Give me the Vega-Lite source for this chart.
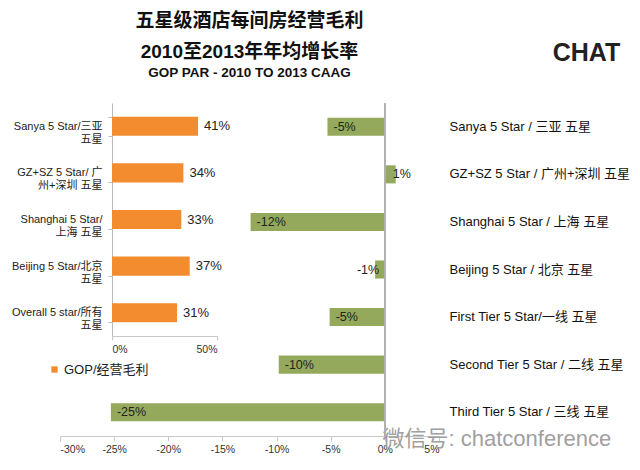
{
  "$schema": "https://vega.github.io/schema/vega-lite/v6.json",
  "width": 379,
  "height": 333,
  "autosize": {"type": "none"},
  "padding": {"left": 60, "top": 103, "right": 201, "bottom": 34},
  "title": {
    "text": ["五星级酒店每间房经营毛利", "2010至2013年年均增长率"],
    "subtitle": "GOP PAR - 2010 TO 2013 CAAG",
    "anchor": "middle",
    "frame": "group",
    "fontSize": 19,
    "fontWeight": "bold",
    "lineHeight": 31,
    "color": "#111",
    "subtitleFontSize": 13.5,
    "subtitleFontWeight": "bold",
    "subtitleColor": "#111",
    "subtitlePadding": 4,
    "offset": -39
  },
  "datasets": {
    "growth": [
      {"market": "Sanya 5 Star / 三亚 五星", "caag": -0.053},
      {"market": "GZ+SZ 5 Star / 广州+深圳 五星", "caag": 0.01},
      {"market": "Shanghai 5 Star / 上海 五星", "caag": -0.124},
      {"market": "Beijing 5 Star / 北京 五星", "caag": -0.009},
      {"market": "First Tier 5 Star/一线 五星", "caag": -0.051},
      {"market": "Second Tier 5 Star / 二线 五星", "caag": -0.098},
      {"market": "Third Tier 5 Star / 三线 五星", "caag": -0.253}
    ],
    "gop": [
      {"market": "Sanya 5 Star/三亚|五星", "gop": 0.41},
      {"market": "GZ+SZ 5 Star/ 广|州+深圳 五星", "gop": 0.34},
      {"market": "Shanghai 5 Star/|上海 五星", "gop": 0.33},
      {"market": "Beijing 5 Star/北京|五星", "gop": 0.37},
      {"market": "Overall 5 star/所有|五星", "gop": 0.31}
    ]
  },
  "layer": [
    {
      "data": {"name": "growth"},
      "layer": [
        {
          "encoding": {
            "y": {
              "field": "market",
              "type": "nominal",
              "sort": null,
              "scale": {"paddingInner": 0.62, "paddingOuter": 0.31},
              "axis": {
                "orient": "right",
                "domain": false,
                "ticks": false,
                "labelAlign": "left",
                "labelPadding": 10,
                "labelFontSize": 13,
                "labelColor": "#111",
                "labelLimit": 300,
                "title": "CHAT",
                "titleAngle": 0,
                "titleX": 147,
                "titleY": -43,
                "titleAlign": "center",
                "titleBaseline": "alphabetic",
                "titleFontSize": 25,
                "titleFontWeight": "bold",
                "titleColor": "#222"
              }
            },
            "x": {
              "field": "caag",
              "type": "quantitative",
              "scale": {"domain": [-0.3, 0.05], "nice": false, "zero": false},
              "axis": {
                "orient": "bottom",
                "values": [-0.3, -0.25, -0.2, -0.15, -0.1, -0.05, 0, 0.05],
                "format": ".0%",
                "grid": false,
                "domainColor": "#c8c8c8",
                "tickColor": "#c8c8c8",
                "tickSize": 5,
                "labelFontSize": 10.5,
                "labelColor": "#333",
                "labelPadding": 3,
                "title": "微信号: chatconference",
                "titleX": 322,
                "titleY": 9,
                "titleAlign": "left",
                "titleBaseline": "alphabetic",
                "titleFontSize": 22,
                "titleFontWeight": "normal",
                "titleColor": "#a0a0a0"
              }
            }
          },
          "layer": [
            {"mark": {"type": "bar", "color": "#94A95C"}},
            {
              "transform": [{"filter": "datum.caag <= -0.02"}],
              "mark": {"type": "text", "align": "left", "baseline": "middle", "dx": 6, "fontSize": 12.5, "color": "#222"},
              "encoding": {"text": {"field": "caag", "type": "quantitative", "format": ".0%"}}
            },
            {
              "transform": [{"filter": "datum.caag < 0 && datum.caag > -0.02"}],
              "mark": {"type": "text", "align": "right", "baseline": "middle", "dx": 4, "fontSize": 12.5, "color": "#222"},
              "encoding": {"text": {"field": "caag", "type": "quantitative", "format": ".0%"}}
            },
            {
              "transform": [{"filter": "datum.caag > 0"}],
              "mark": {"type": "text", "align": "left", "baseline": "middle", "dx": -3, "fontSize": 12.5, "color": "#222"},
              "encoding": {"text": {"field": "caag", "type": "quantitative", "format": ".0%"}}
            }
          ]
        },
        {
          "mark": {"type": "rule", "color": "#b0b0b0"},
          "encoding": {"x": {"datum": 0, "type": "quantitative"}}
        }
      ]
    },
    {
      "data": {"name": "gop"},
      "encoding": {
        "y": {
          "field": "market",
          "type": "nominal",
          "sort": null,
          "scale": {"range": [0, 233], "paddingInner": 0.59, "paddingOuter": 0.295},
          "axis": {
            "orient": "left",
            "offset": -52,
            "tickBand": "extent",
            "tickSize": 4,
            "domainColor": "#bbb",
            "tickColor": "#bbb",
            "labelPadding": 6,
            "labelFontSize": 11,
            "labelColor": "#222",
            "labelLineHeight": 13,
            "labelExpr": "split(datum.label, '|')",
            "title": null
          }
        },
        "x": {
          "field": "gop",
          "type": "quantitative",
          "scale": {"domain": [0, 0.5], "range": [52, 157], "nice": false},
          "axis": {
            "orient": "bottom",
            "offset": -100,
            "values": [0, 0.5],
            "format": ".0%",
            "grid": false,
            "domainColor": "#c8c8c8",
            "tickColor": "#c8c8c8",
            "tickSize": 4,
            "labelFontSize": 10.5,
            "labelColor": "#333",
            "labelPadding": 4,
            "title": null
          }
        }
      },
      "layer": [
        {
          "mark": {"type": "bar"},
          "encoding": {
            "color": {
              "datum": "GOP/经营毛利",
              "type": "nominal",
              "scale": {"range": ["#F28C2E"]},
              "legend": {
                "orient": "none",
                "legendX": -12,
                "legendY": 260,
                "title": null,
                "symbolType": "square",
                "symbolSize": 40,
                "labelOffset": 3,
                "labelFontSize": 13,
                "labelColor": "#222",
                "padding": 0
              }
            }
          }
        },
        {
          "mark": {"type": "text", "align": "left", "baseline": "middle", "dx": 6, "fontSize": 13, "color": "#222"},
          "encoding": {"text": {"field": "gop", "type": "quantitative", "format": ".0%"}}
        }
      ]
    }
  ],
  "resolve": {"scale": {"x": "independent", "y": "independent", "color": "independent"}},
  "config": {
    "font": "Liberation Sans, Noto Sans CJK SC, sans-serif",
    "view": {"stroke": null},
    "locale": {
      "number": {"decimal": ".", "thousands": ",", "grouping": [3], "currency": ["$", ""], "minus": "-"}
    }
  }
}
